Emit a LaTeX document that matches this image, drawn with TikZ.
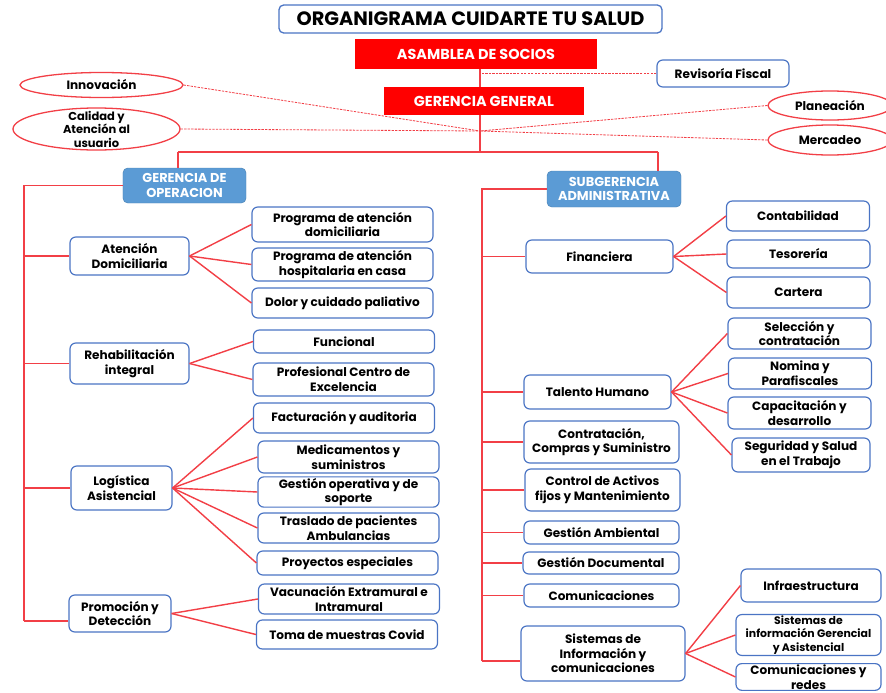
\documentclass[tikz,border=0pt]{standalone}
\usepackage{fontspec}
\setmainfont{Poppins}
\usetikzlibrary{shapes.geometric, positioning}

\definecolor{linered}{HTML}{F23F46}
\definecolor{boxred}{HTML}{FF0000}
\definecolor{edgeblue}{HTML}{4A74C4}
\definecolor{fillblue}{HTML}{5B9BD5}

\begin{document}
\begin{tikzpicture}[
    x=0.03cm, y=-0.03cm,
    every node/.style={align=center, inner sep=1pt, font=\bfseries\fontsize{10.3}{12.5}\selectfont},
    titlebox/.style={draw=edgeblue, line width=1.1pt, rounded corners=4pt, fill=white, font=\bfseries\fontsize{16.5}{19}\selectfont},
    redbox/.style={fill=boxred, text=white, font=\bfseries\fontsize{12.3}{14}\selectfont},
    bluebox/.style={draw=fillblue!85!black, fill=fillblue, rounded corners=4pt, text=white, font=\bfseries\fontsize{11}{12.5}\selectfont},
    unitbox/.style={draw=edgeblue, line width=1pt, rounded corners=5pt, fill=white},
    leftsub/.style={unitbox, minimum width=5.43cm},
    rightsub/.style={unitbox, minimum width=4.29cm},
    ovalbox/.style={ellipse, draw=linered, line width=1.1pt, fill=white},
    link/.style={draw=linered, line width=1.2pt},
    dashlink/.style={draw=linered, line width=0.7pt, dash pattern=on 2pt off 1pt}
]
\useasboundingbox (0,0) rectangle (886,693);
\clip (0,0) rectangle (886,693);

% direccion
\coordinate (hub) at (480,131);
\coordinate (split) at (480,152);
\coordinate (opdrop) at (178,152);
\coordinate (addrop) at (658,152);

\node[titlebox, minimum width=11.49cm, minimum height=0.84cm] (title) at (470.5,19) {ORGANIGRAMA CUIDARTE TU SALUD};
\node[redbox, minimum width=7.26cm, minimum height=0.9cm] (asamblea) at (476,54) {ASAMBLEA DE SOCIOS};
\node[redbox, minimum width=6cm, minimum height=0.84cm] (gerencia) at (484,101) {GERENCIA GENERAL};
\node[unitbox, minimum width=3.96cm, minimum height=0.81cm] (revisoria) at (723,73.5) {Revisoría Fiscal};

\draw[dashlink] (revisoria.west) -- (revisoria.west -| hub);

\node[ovalbox, minimum width=4.89cm, minimum height=0.75cm] (innovacion) at (101.5,85) {Innovación};
\node[ovalbox, minimum width=5.01cm, minimum height=1.26cm] (calidad) at (96.5,129) {};
\node[font=\bfseries\fontsize{9.8}{11.5}\selectfont] (calidadtext) at (calidad) {Calidad y\\Atención al\\usuario};
\node[ovalbox, minimum width=3.72cm, minimum height=0.87cm] (planeacion) at (830,105.5) {Planeación};
\node[ovalbox, minimum width=3.72cm, minimum height=0.9cm] (mercadeo) at (830,140) {Mercadeo};

\draw[dashlink] (innovacion.east) -- (hub);
\draw[dashlink] (calidad.east) -- (hub);
\draw[dashlink] (planeacion.west) -- (hub);
\draw[dashlink] (mercadeo.west) -- (hub);

\node[bluebox, minimum width=3.69cm, minimum height=1.05cm] (opera) at (184.5,185.5) {GERENCIA DE\\OPERACION};
\node[bluebox, minimum width=4.02cm, minimum height=1.08cm] (subadmin) at (614,189) {SUBGERENCIA\\ADMINISTRATIVA};

\draw[link] (asamblea.south -| hub) -- (gerencia.north -| hub);
\draw[link] (gerencia.south -| hub) -- (split);
\draw[link] (opdrop) -- (addrop);
\draw[link] (opdrop) -- (opdrop |- opera.north);
\draw[link] (addrop) -- (addrop |- subadmin.north);

% gerencia de operacion
\coordinate (leftend) at (24,621);

\node[unitbox, minimum width=3.57cm, minimum height=1.14cm] (aten) at (129.5,256) {Atención\\Domiciliaria};
\node[unitbox, minimum width=3.57cm, minimum height=1.23cm] (rehab) at (129.5,363.5) {Rehabilitación\\integral};
\node[unitbox, minimum width=3.03cm, minimum height=1.32cm] (logis) at (121.5,488) {Logística\\Asistencial};
\node[unitbox, minimum width=3.06cm, minimum height=1.11cm] (promo) at (120,613.5) {Promoción y\\Detección};

\node[leftsub, minimum height=1.05cm] (domic) at (342.5,224.5) {Programa de atención\\domiciliaria};
\node[leftsub, minimum height=0.99cm] (hospi) at (342.5,264.5) {Programa de atención\\hospitalaria en casa};
\node[leftsub, minimum height=0.9cm] (dolor) at (342.5,303) {Dolor y cuidado paliativo};
\node[leftsub, minimum height=0.69cm] (funci) at (344,341.5) {Funcional};
\node[leftsub, minimum height=0.99cm] (profe) at (343.5,379.5) {Profesional Centro de\\Excelencia};
\node[leftsub, minimum height=0.9cm] (factu) at (344,418) {Facturación y auditoria};
\node[leftsub, minimum height=0.96cm] (medic) at (348.5,457) {Medicamentos y\\suministros};
\node[leftsub, minimum height=0.9cm] (gesti) at (348.5,492) {Gestión operativa y de\\soporte};
\node[leftsub, minimum height=0.9cm] (trasl) at (348.5,528) {Traslado de pacientes\\Ambulancias};
\node[leftsub, minimum height=0.72cm] (proye) at (347.5,563) {Proyectos especiales};
\node[leftsub, minimum height=0.9cm] (vacun) at (349,599) {Vacunación Extramural e\\Intramural};
\node[leftsub, minimum height=0.87cm] (muest) at (347,634.5) {Toma de muestras Covid};

\draw[link] (opera.west) -| (leftend);
\draw[link] (aten.west -| leftend) -- (aten.west);
\draw[link] (rehab.west -| leftend) -- (rehab.west);
\draw[link] (logis.west -| leftend) -- (logis.west);
\draw[link] (leftend) -- (leftend -| promo.west);

\draw[link] (aten.east) -- (domic.west);
\draw[link] (aten.east) -- (hospi.west);
\draw[link] (aten.east) -- (dolor.west);
\draw[link] (rehab.east) -- (funci.west);
\draw[link] (rehab.east) -- (profe.west);
\draw[link] (logis.east) -- (factu.west);
\draw[link] (logis.east) -- (medic.west);
\draw[link] (logis.east) -- (gesti.west);
\draw[link] (logis.east) -- (trasl.west);
\draw[link] (logis.east) -- (proye.west);
\draw[link] (promo.east) -- (vacun.west);
\draw[link] (promo.east) -- (muest.west);

% subgerencia administrativa
\coordinate (rightend) at (482,661);

\node[unitbox, minimum width=4.41cm, minimum height=0.99cm] (finan) at (599.5,256.5) {Financiera};
\node[unitbox, minimum width=4.41cm, minimum height=1.02cm] (talen) at (597.5,392) {Talento Humano};
\node[unitbox, minimum width=4.65cm, minimum height=1.26cm] (compr) at (601.5,442) {Contratación,\\Compras y Suministro};
\node[unitbox, minimum width=4.65cm, minimum height=1.26cm] (activ) at (602.5,490) {Control de Activos\\fijos y Mantenimiento};
\node[unitbox, minimum width=4.65cm, minimum height=0.69cm] (ambie) at (601.5,532.5) {Gestión Ambiental};
\node[unitbox, minimum width=4.68cm, minimum height=0.66cm] (docum) at (601,563) {Gestión Documental};
\node[unitbox, minimum width=4.65cm, minimum height=0.69cm] (comun) at (601.5,595.5) {Comunicaciones};
\node[unitbox, minimum width=4.92cm, minimum height=1.65cm] (siste) at (603,653.5) {Sistemas de\\Información y\\comunicaciones};

\node[rightsub, minimum height=0.9cm] (conta) at (798,216) {Contabilidad};
\node[rightsub, minimum height=0.84cm] (tesor) at (798.5,254) {Tesorería};
\node[rightsub, minimum height=0.93cm] (carte) at (798.5,292.5) {Cartera};
\node[rightsub, minimum height=0.93cm] (selec) at (799.5,333.5) {Selección y\\contratación};
\node[rightsub, minimum height=0.93cm] (nomin) at (800,373.5) {Nomina y\\Parafiscales};
\node[rightsub, minimum height=0.96cm] (capac) at (799.5,413) {Capacitación y\\desarrollo};
\node[rightsub, minimum width=4.14cm, minimum height=1.02cm] (segur) at (801,455) {Seguridad y Salud\\en el Trabajo};
\node[rightsub, minimum width=4.2cm, minimum height=0.99cm] (infra) at (811,585.5) {Infraestructura};
\node[rightsub, minimum width=4.35cm, minimum height=1.2cm, font=\bfseries\fontsize{9.3}{11.5}\selectfont] (sigea) at (808.5,635) {Sistemas de\\información Gerencial\\y Asistencial};
\node[rightsub, minimum width=4.35cm, anchor=north] (redes) at (808.5,663) {Comunicaciones y\\redes};

\draw[link] (subadmin.west) -| (rightend);
\draw[link] (finan.west -| rightend) -- (finan.west);
\draw[link] (talen.west -| rightend) -- (talen.west);
\draw[link] (compr.west -| rightend) -- (compr.west);
\draw[link] (activ.west -| rightend) -- (activ.west);
\draw[link] (ambie.west -| rightend) -- (ambie.west);
\draw[link] (docum.west -| rightend) -- (docum.west);
\draw[link] (comun.west -| rightend) -- (comun.west);
\draw[link] (rightend) -- (rightend -| siste.west);

\draw[link] (finan.east) -- (conta.west);
\draw[link] (finan.east) -- (tesor.west);
\draw[link] (finan.east) -- (carte.west);
\draw[link] (talen.east) -- (selec.west);
\draw[link] (talen.east) -- (nomin.west);
\draw[link] (talen.east) -- (capac.west);
\draw[link] (talen.east) -- (segur.west);
\draw[link] (siste.east) -- (infra.west);
\draw[link] (siste.east) -- (sigea.west);
\draw[link] (siste.east) -- (redes.west);

\end{tikzpicture}
\end{document}
